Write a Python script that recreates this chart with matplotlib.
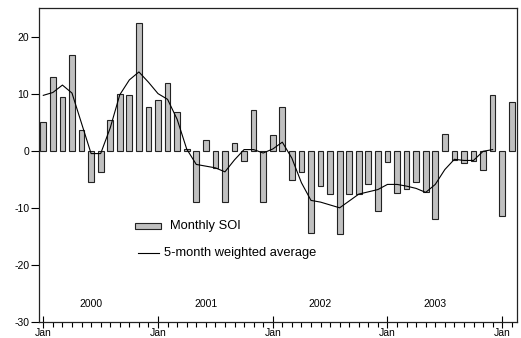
import matplotlib
matplotlib.use("Agg")
import matplotlib.pyplot as plt
from matplotlib.patches import Rectangle
from matplotlib.lines import Line2D
import numpy as np

plt.rcParams['font.family'] = ['Liberation Sans', 'DejaVu Sans']

# Monthly SOI, Jan 2000 .. Feb 2004
soi = [5.1, 12.9, 9.4, 16.7, 3.6, -5.5, -3.7, 5.3, 9.9, 9.7, 22.3, 7.7,
       8.9, 11.9, 6.7, 0.3, -9.0, 1.8, -3.0, -8.9, 1.4, -1.8, 7.2, -9.0,
       2.7, 7.7, -5.1, -3.7, -14.4, -6.2, -7.5, -14.5, -7.5, -7.5, -5.9, -10.5,
       -2.0, -7.4, -6.7, -5.5, -7.3, -11.9, 2.9, -1.6, -2.1, -1.8, -3.3, 9.8,
       -11.5, 8.6]
# 5-month weighted average, Jan 2000 .. Dec 2003
wavg = [9.7, 10.2, 11.5, 10.1, 4.8, -0.5, -0.5, 4.0, 9.8, 12.4, 13.8, 12.0,
        10.0, 9.0, 5.5, 0.3, -2.4, -2.7, -3.0, -3.7, -1.6, 0.2, 0.2, -0.4,
        0.3, 1.5, -1.3, -5.6, -8.7, -9.0, -9.5, -10.0, -8.8, -7.6, -7.2, -6.8,
        -5.9, -5.9, -6.2, -6.6, -7.3, -5.9, -3.3, -1.5, -1.7, -1.7, -0.1, 0.2]
years = ["2000", "2001", "2002", "2003"]
yticks = [-30, -20, -10, 0, 10, 20]

months = np.arange(len(soi))
wmonths = np.arange(len(wavg))

fig = plt.figure(figsize=(5.21, 3.38), dpi=100)
ax = fig.add_axes([39/521, 16/338, 478/521, 314/338])

ax.bar(months, soi, width=0.6, color='#c0c0c0', edgecolor='#222222',
       linewidth=0.8, zorder=2)
ax.plot(wmonths, wavg, color='black', linewidth=0.8, zorder=3)

ax.set_xlim(-0.45, 49.55)
ax.set_ylim(-30, 25)

ax.set_yticks(yticks)
ax.set_yticklabels([str(v) for v in yticks], fontsize=7.5)
ax.tick_params(axis='y', direction='out', length=5.5, width=0.8, pad=1.5)

ax.set_xticks(np.arange(0, 50, 12))
ax.set_xticklabels(['Jan'] * len(np.arange(0, 50, 12)), fontsize=7.5)
ax.set_xticks(np.arange(0, 50, 1), minor=True)
ax.tick_params(axis='x', which='major', direction='inout', length=8, width=0.8, pad=0.5)
ax.tick_params(axis='x', which='minor', direction='out', length=3.5, width=0.8)

for sp in ax.spines.values():
    sp.set_linewidth(0.9)
    sp.set_color('#222222')

for i, y in enumerate(years):
    ax.text(5 + 12 * i, -26.9, y, ha='center', va='center', fontsize=7.5)

# legend
ax.add_patch(Rectangle((0.2008, 0.2952), 0.0544, 0.021, transform=ax.transAxes,
                       facecolor='#c0c0c0', edgecolor='#222222', linewidth=0.8))
ax.text(0.274, 0.3057, 'Monthly SOI', transform=ax.transAxes, va='center',
        ha='left', fontsize=9.3)
ax.add_line(Line2D([0.207, 0.251], [0.2188, 0.2188], transform=ax.transAxes,
                   color='black', linewidth=0.8))
ax.text(0.262, 0.2188, '5-month weighted average', transform=ax.transAxes,
        va='center', ha='left', fontsize=9.3)

fig.savefig('out.png', dpi=100)
